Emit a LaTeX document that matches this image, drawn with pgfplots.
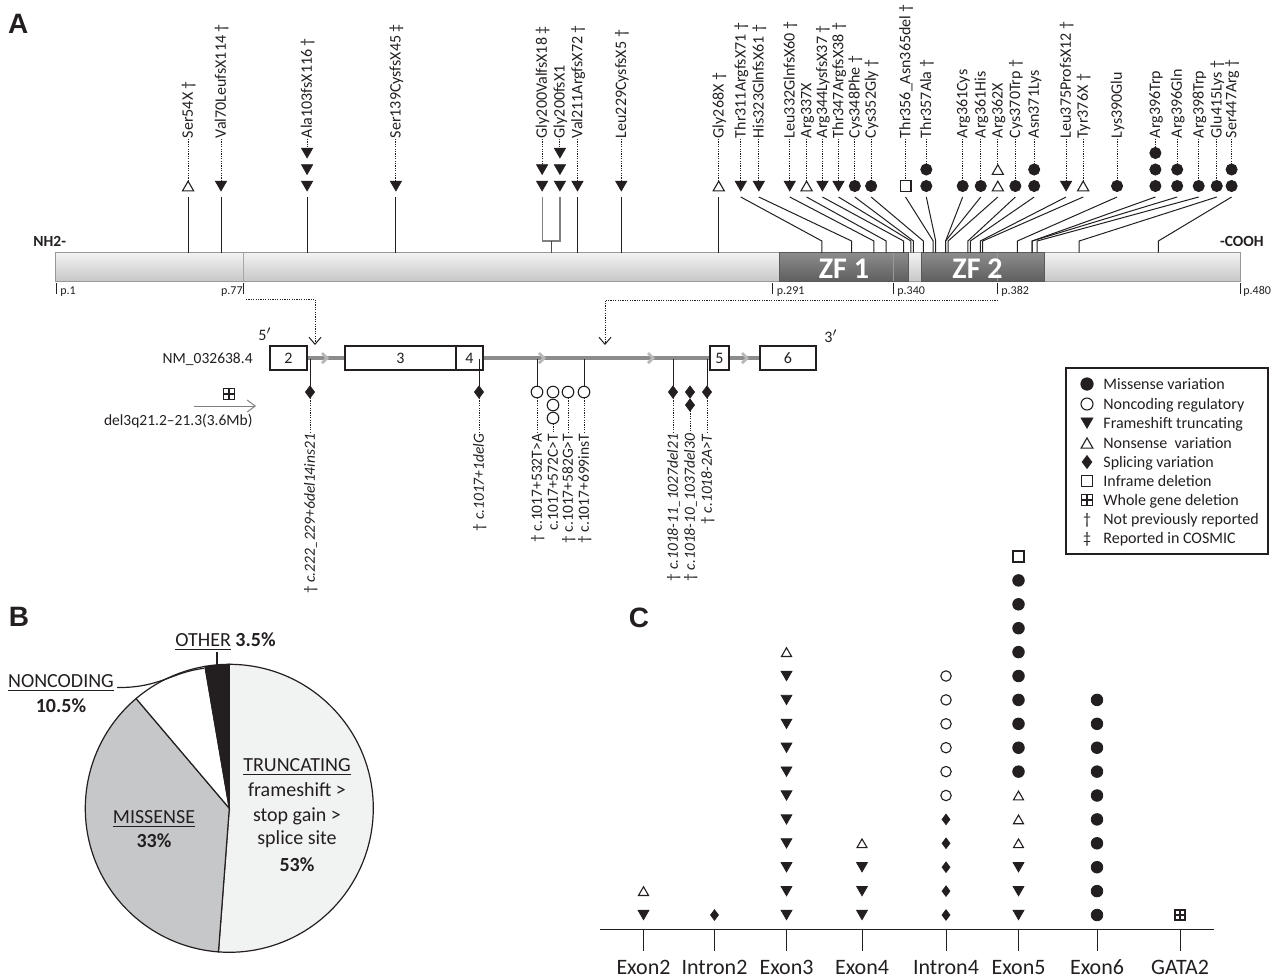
\documentclass[border=0pt]{standalone}
\usepackage{fontspec}
\setmainfont{Carlito}
\newfontfamily\lsans{Liberation Sans}
\usepackage{pgfplots}
\pgfplotsset{compat=1.18}
\usetikzlibrary{arrows.meta}
\definecolor{ink}{HTML}{231F20}
\definecolor{truncC}{HTML}{F1F2F2}
\definecolor{missC}{HTML}{C6C7C9}
\definecolor{geneline}{HTML}{8C8C8C}
\definecolor{chev}{HTML}{B8B8B8}
\newcommand\labfont{\fontsize{7.75pt}{9pt}\selectfont}
\newcommand\toplabfont{\fontsize{8pt}{9.5pt}\selectfont}
\newcommand\legfont{\fontsize{8pt}{9.5pt}\selectfont}
\newcommand\pfont{\fontsize{6pt}{7pt}\selectfont}
\newcommand\exfont{\fontsize{8pt}{9pt}\selectfont}
\newcommand\piefont{\fontsize{10pt}{12pt}\selectfont}
\newcommand\tickfont{\fontsize{11pt}{13pt}\selectfont}
\newcommand\letterfont{\lsans\bfseries\fontsize{14pt}{16pt}\selectfont}
\pgfplotsset{
  m fill/.style={only marks, mark=*, mark size=#1, color=ink},
  m fill/.default=2.8pt,
  m open/.style={only marks, mark=o, mark size=#1, color=ink, mark options={line width=0.55pt}},
  m open/.default=2.8pt,
  m down/.style={only marks, mark=triangle*, mark size=#1, color=ink, mark options={yshift=0.25*#1, rotate=180}},
  m down/.default=3.2pt,
  m up/.style={only marks, mark=triangle, mark size=#1, color=ink, mark options={yshift=-0.25*#1, line width=0.55pt}},
  m up/.default=3.2pt,
  m diam/.style={only marks, mark=diamond*, mark size=#1, color=ink},
  m diam/.default=3pt,
  m sq/.style={only marks, mark=square, mark size=#1, color=ink, mark options={line width=0.6pt}},
  m sq/.default=2.8pt,
  m plus/.style={only marks, mark=+, mark size=#1, color=ink, mark options={line width=0.55pt}},
  m plus/.default=2.8pt,
  full canvas/.style={at={(0,0)}, anchor=north west, scale only axis, width=640pt, height=490pt, hide axis, clip=false},
}
\tikzset{dots/.style={dash pattern=on 0.6pt off 0.6pt}}
% protein helpers (x = residue, y = pixel row)
\newcommand\vstem[1]{\addplot[ink, line width=0.5pt] coordinates {(#1,197) (#1,252.5)};}
\newcommand\astem[2]{\addplot[ink, line width=0.5pt] coordinates {(#1,197) (#2,241) (#2,252.5)};}
\newcommand\mlab[3]{\addplot[ink, line width=0.5pt, dots] coordinates {(#1,139) (#1,#2)};
  \node[rotate=90, anchor=west, inner sep=0pt, text height=0.68em, text depth=0.2em, font=\toplabfont, text=ink] at (axis cs:#1,138.5) {#3};}
% gene helpers (pixels)
\newcommand\gdot[2]{\addplot[ink, line width=0.5pt, dots] coordinates {(#1,#2) (#1,433)};}
\newcommand\glab[2]{\node[rotate=90, anchor=east, inner sep=0pt, text height=0.68em, text depth=0.2em, font=\labfont, text=ink] at (axis cs:#1,433.5) {#2};}
\newcommand\gstem[1]{\addplot[ink, line width=0.5pt] coordinates {(#1,359) (#1,386)};}
% C helpers (x = pixel column, y = count)
\newcommand\ctick[1]{\addplot[ink, line width=0.5pt] coordinates {(#1,0.3933) (#1,-0.5063)};}

\begin{document}
\begin{tikzpicture}[x=0.5pt,y=-0.5pt]
% ================= B: pie (shares in percent) =================
\begin{scope}[shift={(229.3,808.3)},x=0.5pt,y=0.5pt]
\def\R{144}
\pgfmathsetmacro\aA{90}
\pgfmathsetmacro\aB{\aA-3.6*51.2}
\pgfmathsetmacro\aC{\aB-3.6*37.6}
\pgfmathsetmacro\aD{\aC-3.6*8.5}
\pgfmathsetmacro\aE{\aD-3.6*2.7}
\filldraw[fill=truncC, draw=ink, line width=0.6pt] (0,0) -- (\aA:\R) arc[start angle=\aA, end angle=\aB, radius=\R] -- cycle;
\filldraw[fill=missC, draw=ink, line width=0.6pt] (0,0) -- (\aB:\R) arc[start angle=\aB, end angle=\aC, radius=\R] -- cycle;
\filldraw[fill=white, draw=ink, line width=0.6pt] (0,0) -- (\aC:\R) arc[start angle=\aC, end angle=\aD, radius=\R] -- cycle;
\filldraw[fill=ink, draw=ink, line width=0.6pt] (0,0) -- (\aD:\R) arc[start angle=\aD, end angle=\aE, radius=\R] -- cycle;
\end{scope}

% ================= canvas (pixel coordinates) =================
\begin{axis}[full canvas, xmin=0, xmax=1280, ymin=0, ymax=980, y dir=reverse]
% panel letters
\node[font=\letterfont, text=ink, anchor=base] at (18.3,33.3) {A};
\node[font=\letterfont, text=ink, anchor=base] at (19,626.7) {B};
\node[font=\letterfont, text=ink, anchor=base] at (639,627) {C};
% termini
\node[font=\bfseries\labfont, anchor=base west, inner sep=0pt, text=ink] at (33,246.5) {NH2-};
\node[font=\bfseries\labfont, anchor=base east, inner sep=0pt, text=ink] at (1264,246.5) {-COOH};
% residue labels
\node[font=\pfont, anchor=base west, inner sep=0pt, text=ink] at (60,294) {p.1};
\node[font=\pfont, anchor=base east, inner sep=0pt, text=ink] at (243,294) {p.77};
\node[font=\pfont, anchor=base west, inner sep=0pt, text=ink] at (776.5,294) {p.291};
\node[font=\pfont, anchor=base west, inner sep=0pt, text=ink] at (897,294) {p.340};
\node[font=\pfont, anchor=base west, inner sep=0pt, text=ink] at (1001,294) {p.382};
\node[font=\pfont, anchor=base west, inner sep=0pt, text=ink] at (1243,294) {p.480};
% connectors
\addplot[ink, line width=0.5pt, dots, -{Straight Barb[length=3.5pt,width=6pt]}] coordinates {(246,299) (315,299) (315,345)};
\addplot[ink, line width=0.5pt, dots, -{Straight Barb[length=3.5pt,width=6pt]}] coordinates {(998,300) (605,300) (605,345)};
% gene structure
\addplot[geneline, line width=1.6pt] coordinates {(307,358) (760,358)};
\addplot[chev, line width=1.4pt] coordinates {(322,353) (327,358) (322,363)};
\addplot[chev, line width=1.4pt] coordinates {(539,353) (544,358) (539,363)};
\addplot[chev, line width=1.4pt] coordinates {(648,353) (653,358) (648,363)};
\addplot[chev, line width=1.4pt] coordinates {(742,353) (747,358) (742,363)};
\addplot[draw=ink, fill=white, line width=0.6pt] coordinates {(270,346) (307,346) (307,370) (270,370)} -- cycle;
\addplot[draw=ink, fill=white, line width=0.6pt] coordinates {(345,346) (456,346) (456,370) (345,370)} -- cycle;
\addplot[draw=ink, fill=white, line width=0.6pt] coordinates {(456,346) (483,346) (483,370) (456,370)} -- cycle;
\addplot[draw=ink, fill=white, line width=0.6pt] coordinates {(710,346) (729,346) (729,370) (710,370)} -- cycle;
\addplot[draw=ink, fill=white, line width=0.6pt] coordinates {(760,346) (816,346) (816,370) (760,370)} -- cycle;
\node[font=\exfont, anchor=base, text=ink] at (288.5,363.5) {2};
\node[font=\exfont, anchor=base, text=ink] at (400.5,363.5) {3};
\node[font=\exfont, anchor=base, text=ink] at (469.5,363.5) {4};
\node[font=\exfont, anchor=base, text=ink] at (719.5,363.5) {5};
\node[font=\exfont, anchor=base, text=ink] at (788,363.5) {6};
\node[font=\exfont, anchor=base, text=ink] at (265,340) {5$'$};
\node[font=\exfont, anchor=base, text=ink] at (831,342) {3$'$};
\node[font=\labfont, anchor=base east, inner sep=0pt, text=ink] at (253,363) {NM\_032638.4};
\addplot[m sq=2.6pt] coordinates {(229,394)};
\addplot[m plus=2.6pt] coordinates {(229,394)};
\addplot[black!50, line width=0.5pt, -{Straight Barb[length=4pt,width=6pt]}] coordinates {(194,406) (256,406)};
\node[font=\labfont, anchor=base east, inner sep=0pt, text=ink] at (253,425) {del3q21.2–21.3(3.6Mb)};
% gene variants
\gstem{310}\gstem{479}\gstem{537}\gstem{584}\gstem{673}\gstem{707}
\addplot[m diam=3pt] coordinates {(310,392) (479,392) (673,392) (690,392) (690,405) (707,392)};
\addplot[m open=2.9pt] coordinates {(537,392) (553,392) (553,405) (553,418) (568,392) (584,392)};
\gdot{310}{398}\gdot{479}{398}\gdot{537}{398}\gdot{553}{424}\gdot{568}{398}\gdot{584}{398}
\gdot{673}{398}\gdot{690}{411}\gdot{707}{398}
\glab{310}{† \textit{c.222\_229+6del14ins21}}
\glab{479}{† \textit{c.1017+1delG}}
\glab{537}{† c.1017+532T>A}
\glab{553}{c.1017+572C>T}
\glab{568}{† c.1017+582G>T}
\glab{584}{† c.1017+699insT}
\glab{673}{† \textit{c.1018-11\_1027del21}}
\glab{690}{† \textit{c.1018-10\_1037del30}}
\glab{707}{† \textit{c.1018-2A>T}}
% legend
\addplot[draw=ink, line width=0.6pt] coordinates {(1066,368) (1268,368) (1268,554) (1066,554)} -- cycle;
\addplot[m fill=3.1pt] coordinates {(1087,384)};
\addplot[m open=3pt] coordinates {(1087,404)};
\addplot[m down=3.4pt] coordinates {(1087,423)};
\addplot[m up=3.4pt] coordinates {(1087,443)};
\addplot[m diam=3.2pt] coordinates {(1087,462)};
\addplot[m sq=2.9pt] coordinates {(1087,481)};
\addplot[m sq=2.9pt] coordinates {(1087,500)};
\addplot[m plus=2.9pt] coordinates {(1087,500)};
\node[font=\legfont, anchor=base, inner sep=0pt, text=ink] at (1087,524.3) {†};
\node[font=\legfont, anchor=base, inner sep=0pt, text=ink] at (1087,543.3) {‡};
\node[font=\legfont, anchor=base west, inner sep=0pt, text=ink] at (1103,389.3) {Missense variation};
\node[font=\legfont, anchor=base west, inner sep=0pt, text=ink] at (1103,409.3) {Noncoding regulatory};
\node[font=\legfont, anchor=base west, inner sep=0pt, text=ink] at (1103,428.3) {Frameshift truncating};
\node[font=\legfont, anchor=base west, inner sep=0pt, text=ink] at (1103,448.3) {Nonsense\ \ variation};
\node[font=\legfont, anchor=base west, inner sep=0pt, text=ink] at (1103,467.3) {Splicing variation};
\node[font=\legfont, anchor=base west, inner sep=0pt, text=ink] at (1103,486.3) {Inframe deletion};
\node[font=\legfont, anchor=base west, inner sep=0pt, text=ink] at (1103,505.3) {Whole gene deletion};
\node[font=\legfont, anchor=base west, inner sep=0pt, text=ink] at (1103,524.3) {Not previously reported};
\node[font=\legfont, anchor=base west, inner sep=0pt, text=ink] at (1103,543.3) {Reported in COSMIC};
% pie labels
\node[font=\piefont, anchor=base, inner sep=0pt, text=ink] at (297,771.3) {\underline{TRUNCATING}};
\node[font=\piefont, anchor=base, inner sep=0pt, text=ink] at (297,796.3) {frameshift >};
\node[font=\piefont, anchor=base, inner sep=0pt, text=ink] at (297,821.3) {stop gain >};
\node[font=\piefont, anchor=base, inner sep=0pt, text=ink] at (297,844.3) {splice site};
\node[font=\piefont\bfseries, anchor=base, inner sep=0pt, text=ink] at (297,871.3) {53\%};
\node[font=\piefont, anchor=base, inner sep=0pt, text=ink] at (154,823.3) {\underline{MISSENSE}};
\node[font=\piefont\bfseries, anchor=base, inner sep=0pt, text=ink] at (154,847.3) {33\%};
\node[font=\piefont, anchor=base, inner sep=0pt, text=ink] at (61,687.3) {\underline{NONCODING}};
\node[font=\piefont\bfseries, anchor=base, inner sep=0pt, text=ink] at (61,712.3) {10.5\%};
\node[font=\piefont, anchor=base, inner sep=0pt, text=ink] at (225.5,646.3) {\underline{OTHER} \textbf{3.5\%}};
\draw[ink, line width=0.6pt] (117,687.5) .. controls (160,688) and (172,672) .. (204,668.3);
\draw[ink, line width=0.6pt] (217,652) -- (217,665);
% C category labels
\node[font=\tickfont, anchor=base, inner sep=0pt, text=ink] at (643.5,974) {Exon2};
\node[font=\tickfont, anchor=base, inner sep=0pt, text=ink] at (714.5,974) {Intron2};
\node[font=\tickfont, anchor=base, inner sep=0pt, text=ink] at (786.5,974) {Exon3};
\node[font=\tickfont, anchor=base, inner sep=0pt, text=ink] at (862,974) {Exon4};
\node[font=\tickfont, anchor=base, inner sep=0pt, text=ink] at (946,974) {Intron4};
\node[font=\tickfont, anchor=base, inner sep=0pt, text=ink] at (1018.5,974) {Exon5};
\node[font=\tickfont, anchor=base, inner sep=0pt, text=ink] at (1097,974) {Exon6};
\node[font=\tickfont, anchor=base, inner sep=0pt, text=ink] at (1180,974) {GATA2};
\end{axis}

% ================= A: protein (x = residue, 1..480 spans pixels 55..1240) =================
\begin{axis}[full canvas, xmin=-21.232, xmax=496.169, ymin=0, ymax=980, y dir=reverse]
\addplot[draw=black!40, line width=0.5pt, top color=black!5, bottom color=black!22] coordinates {(1,252.5) (480,252.5) (480,281.5) (1,281.5)} -- cycle;
\addplot[draw=black!65, line width=0.5pt, top color=black!45, bottom color=black!63] coordinates {(293.9,252.5) (345.8,252.5) (345.8,281.5) (293.9,281.5)} -- cycle;
\addplot[draw=black!65, line width=0.5pt, top color=black!45, bottom color=black!63] coordinates {(351.1,252.5) (400.8,252.5) (400.8,281.5) (351.1,281.5)} -- cycle;
\addplot[black!35, line width=0.5pt] coordinates {(77,252.5) (77,281.5)};
\addplot[black!40, line width=0.5pt] coordinates {(340,253) (340,281)};
\addplot[black!40, line width=0.5pt] coordinates {(382,253) (382,281)};
\node[font=\bfseries\fontsize{15pt}{18pt}\selectfont, text=white, anchor=base, inner sep=0pt] at (axis cs:319.9,278) {ZF 1};
\node[font=\bfseries\fontsize{15pt}{18pt}\selectfont, text=white, anchor=base, inner sep=0pt] at (axis cs:373.9,278) {ZF 2};
% residue ticks
\addplot[ink, line width=0.5pt] coordinates {(1.8,283) (1.8,294)};
\addplot[ink, line width=0.5pt] coordinates {(77,283) (77,294)};
\addplot[ink, line width=0.5pt] coordinates {(291,283) (291,294)};
\addplot[ink, line width=0.5pt] coordinates {(340,283) (340,294)};
\addplot[ink, line width=0.5pt] coordinates {(382,283) (382,294)};
\addplot[ink, line width=0.5pt] coordinates {(480,283) (480,294)};
% stems
\vstem{54.8}\vstem{68.1}\vstem{102.9}\vstem{138.8}\vstem{212.2}\vstem{229.9}\vstem{269.3}
\addplot[black!50, line width=0.6pt] coordinates {(197.9,197) (197.9,241) (205.1,241) (205.1,197)};
\addplot[black!70, line width=0.5pt] coordinates {(201.6,241) (201.6,252.5)};
\astem{278.2}{311}\astem{285.5}{323}\astem{298.0}{332}\astem{304.8}{337}\astem{311.2}{344}
\astem{317.7}{347}\astem{324.3}{348}\astem{330.9}{352}\astem{344.8}{356}\astem{353.2}{357}
\astem{367.9}{361}\astem{375.2}{361}\astem{382.1}{362}\astem{389.2}{370}\astem{396.8}{371}
\astem{409.7}{375}\astem{416.6}{376}\astem{430.3}{390}\astem{445.8}{396}\astem{454.6}{396}
\astem{463.3}{398}\astem{470.6}{415}\astem{476.6}{447}
% variant marks
\addplot[m down] coordinates {(68.1,186) (102.9,186) (102.9,169.5) (102.9,153) (138.8,186) (197.9,186) (197.9,169.5) (205.1,186) (205.1,169.5) (205.1,153) (212.2,186) (229.9,186) (278.2,186) (285.5,186) (298.0,186) (311.2,186) (317.7,186) (409.7,186)};
\addplot[m up] coordinates {(54.8,186) (269.3,186) (304.8,186) (382.1,186) (382.1,169.5) (416.6,186)};
\addplot[m fill] coordinates {(324.3,186) (330.9,186) (353.2,186) (353.2,169.5) (367.9,186) (375.2,186) (389.2,186) (396.8,186) (396.8,169.5) (430.3,186) (445.8,186) (445.8,169.5) (445.8,153) (454.6,186) (454.6,169.5) (463.3,186) (470.6,186) (476.6,186) (476.6,169.5)};
\addplot[m sq=2.7pt] coordinates {(344.8,186)};
% labels
\mlab{54.8}{180}{Ser54X †}
\mlab{68.1}{181}{Val70LeufsX114 †}
\mlab{102.9}{148}{Ala103fsX116 †}
\mlab{138.8}{181}{Ser139CysfsX45 ‡}
\mlab{197.9}{164}{Gly200ValfsX18 ‡}
\mlab{205.1}{148}{Gly200fsX1}
\mlab{212.2}{181}{Val211ArgfsX72 †}
\mlab{229.9}{181}{Leu229CysfsX5 †}
\mlab{269.3}{180}{Gly268X †}
\mlab{278.2}{181}{Thr311ArgfsX71 †}
\mlab{285.5}{181}{His323GlnfsX61 †}
\mlab{298.0}{181}{Leu332GlnfsX60 †}
\mlab{304.8}{180}{Arg337X}
\mlab{311.2}{181}{Arg344LysfsX37 †}
\mlab{317.7}{181}{Thr347ArgfsX38 †}
\mlab{324.3}{180.5}{Cys348Phe †}
\mlab{330.9}{180.5}{Cys352Gly †}
\mlab{344.8}{180.5}{Thr356\_Asn365del †}
\mlab{353.2}{164}{Thr357Ala †}
\mlab{367.9}{180.5}{Arg361Cys}
\mlab{375.2}{180.5}{Arg361His}
\mlab{382.1}{163.5}{Arg362X}
\mlab{389.2}{180.5}{Cys370Trp †}
\mlab{396.8}{164}{Asn371Lys}
\mlab{409.7}{181}{Leu375ProfsX12 †}
\mlab{416.6}{180}{Tyr376X †}
\mlab{430.3}{180.5}{Lys390Glu}
\mlab{445.8}{147.5}{Arg396Trp}
\mlab{454.6}{164}{Arg396Gln}
\mlab{463.3}{180.5}{Arg398Trp}
\mlab{470.6}{180.5}{Glu415Lys †}
\mlab{476.6}{164}{Ser447Arg †}
\end{axis}

% ================= C: variants per region (x = pixel column, y = count; row 1 at pixel 915, 23.9 px per count) =================
\begin{axis}[full canvas, xmin=0, xmax=1280, ymin=-1.7197, ymax=39.2845]
\addplot[ink, line width=0.6pt] coordinates {(600,0.3933) (1213.6,0.3933)};
\ctick{643.5}\ctick{714.5}\ctick{786.5}\ctick{862}\ctick{946}\ctick{1018.5}\ctick{1097}\ctick{1180}
\addplot[m down=3.1pt] coordinates {(643.5,1) (786.5,1) (786.5,2) (786.5,3) (786.5,4) (786.5,5) (786.5,6) (786.5,7) (786.5,8) (786.5,9) (786.5,10) (786.5,11) (862,1) (862,2) (862,3) (1018.5,1) (1018.5,2) (1018.5,3)};
\addplot[m up=2.9pt] coordinates {(643.5,2) (786.5,12) (862,4) (1018.5,4) (1018.5,5) (1018.5,6)};
\addplot[m diam=2.6pt] coordinates {(714.5,1) (946,1) (946,2) (946,3) (946,4) (946,5)};
\addplot[m open=2.6pt] coordinates {(946,6) (946,7) (946,8) (946,9) (946,10) (946,11)};
\addplot[m fill=2.9pt] coordinates {(1018.5,7) (1018.5,8) (1018.5,9) (1018.5,10) (1018.5,11) (1018.5,12) (1018.5,13) (1018.5,14) (1018.5,15) (1097,1) (1097,2) (1097,3) (1097,4) (1097,5) (1097,6) (1097,7) (1097,8) (1097,9) (1097,10)};
\addplot[m sq=2.75pt] coordinates {(1018.5,16)};
\addplot[m sq=2.5pt] coordinates {(1180,1)};
\addplot[m plus=2.5pt] coordinates {(1180,1)};
\end{axis}
\pgfresetboundingbox
\path (0,0) rectangle (1280,980);
\end{tikzpicture}
\end{document}
